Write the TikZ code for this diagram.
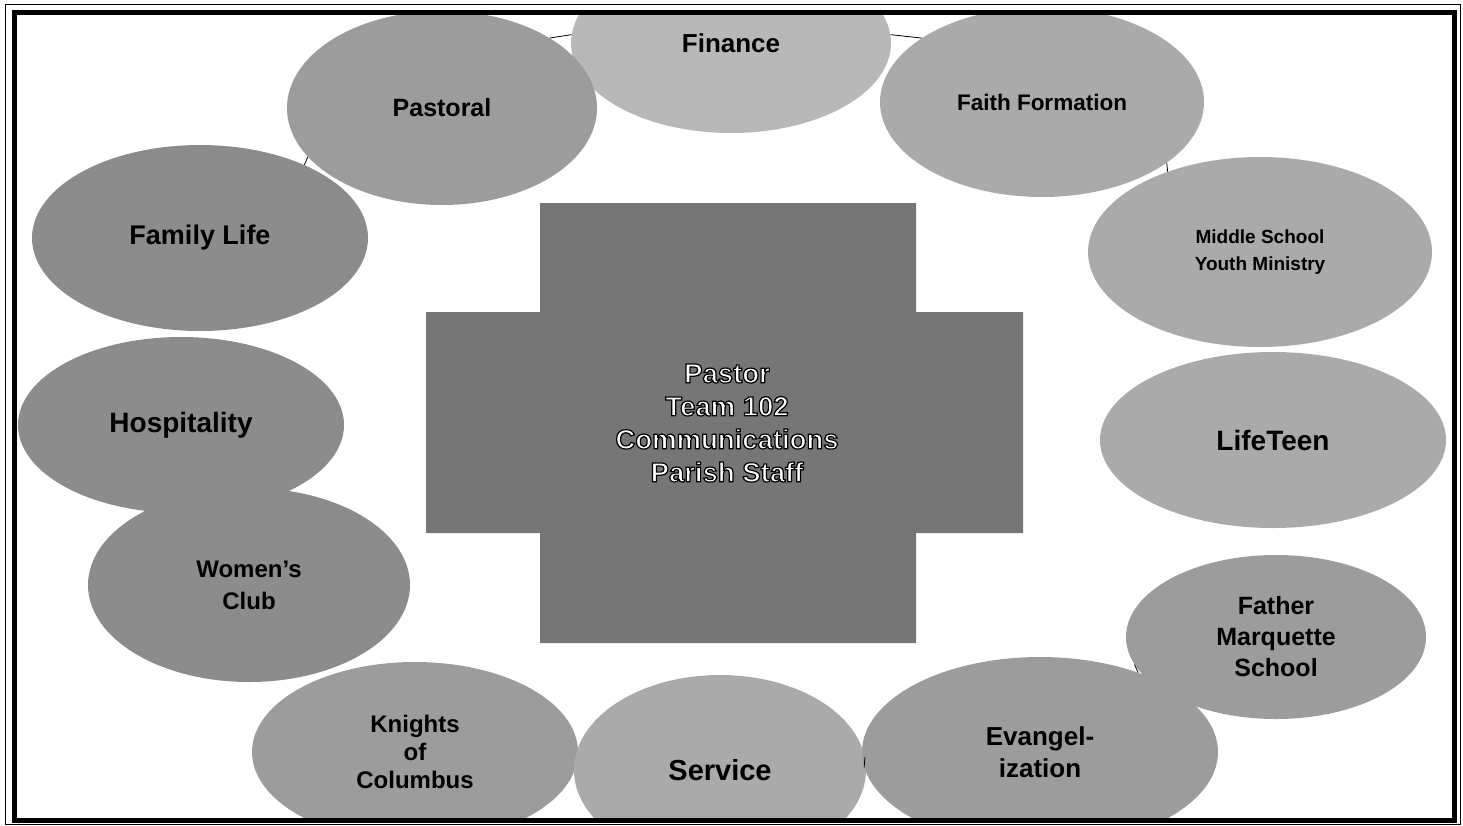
\documentclass[tikz,border=0pt]{standalone}
\definecolor{club_pale}{RGB}{184, 184, 184}
\definecolor{club_light}{RGB}{170, 170, 170}
\definecolor{club_mid}{RGB}{156, 156, 156}
\definecolor{club_dark}{RGB}{140, 140, 140}
\definecolor{hub_gray}{RGB}{118, 118, 118}
\usepackage{fontspec}
\setmainfont{Liberation Sans}
\usepackage{tikz}
\usetikzlibrary{shapes.geometric, positioning}
% white letters with a black rim
\newcommand{\rimtext}[1]{\special{pdf:literal direct 2 Tr 0 G 1.2 w}#1\special{pdf:literal direct 0 Tr}}

\begin{document}
\begin{tikzpicture}[x=1pt, y=-1pt,
        club/.style={ellipse, inner sep=0pt, align=center, text=black},
        size/.style 2 args={minimum width=#1pt, minimum height=#2pt},
        lettering/.style 2 args={font=\bfseries\fontsize{#1}{#2}\selectfont},
        link/.style={draw=black, line width=0.8pt},
      ]
        \useasboundingbox (0, 0) rectangle (1463, 825);

        % cross in the middle
        \fill[hub_gray] (540, 203) -- (916, 203) -- (916, 312) -- (1023, 312)
          -- (1023, 533) -- (916, 533) -- (916, 643) -- (540, 643)
          -- (540, 533) -- (426, 533) -- (426, 312) -- (540, 312) -- cycle;
        \node[align=center, text=white, lettering={27.5}{33}] (hub) at (727, 423)
          {\rimtext{Pastor\\Team 102\\Communications\\Parish Staff}};

        \begin{scope}
          \clip (16.5, 14.5) rectangle (1452, 817.5);

          \node[club, size={320}{180}, fill=club_pale, lettering={26}{30}]
            (finance) at (731, 43) {Finance};
          \node[club, size={310}{194}, fill=club_mid, lettering={25}{29}]
            (pastoral) at (442, 108) {Pastoral};
          \node[club, size={324}{190}, fill=club_light, lettering={22.5}{26}]
            (faith) at (1042, 102) {Faith Formation};
          \node[club, size={336}{186}, fill=club_dark, lettering={27}{31}]
            (family) at (200, 238) {Family Life};
          \node[club, size={344}{190}, fill=club_light, lettering={19}{27}]
            (middle) at (1260, 252) {Middle School\\Youth Ministry};
          \node[club, size={326}{176}, fill=club_dark, lettering={28}{32}]
            (hospitality) at (181, 425) {Hospitality};
          \node[club, size={346}{176}, fill=club_light, lettering={28}{32}]
            (lifeteen) at (1273, 440) {LifeTeen};
          \node[club, size={322}{194}, fill=club_dark, lettering={24}{32}]
            (women) at (249, 585) {Women's\\Club};
          \node[club, size={300}{164}, fill=club_mid, lettering={25}{31}]
            (marquette) at (1276, 637) {Father\\Marquette\\School};
          \node[club, size={326}{180}, fill=club_mid, lettering={24}{28}]
            (knights) at (415, 752) {Knights\\of\\Columbus};
          \node[club, size={292}{190}, fill=club_light, lettering={29}{33}]
            (service) at (720, 770) {Service};
          \node[club, size={356}{190}, fill=club_mid, lettering={26}{32}]
            (evangel) at (1040, 752) {Evangel-\\ization};

          \draw[link] (pastoral.33) -- (finance.177);
          \draw[link] (finance.3) -- (faith.152);
          \draw[link] (faith.334) -- (middle.139);
          \draw[link] (pastoral.200) -- (family.35);
          \draw[link] (marquette.191) -- (evangel.39);
          \draw[link] (service.5) -- (evangel.185);
        \end{scope}

        % double frame
        \draw[line width=5pt] (14, 12) rectangle (1454.5, 820);
        \draw[line width=1pt] (5, 4) rectangle (1460, 824);
      \end{tikzpicture}
\end{document}
